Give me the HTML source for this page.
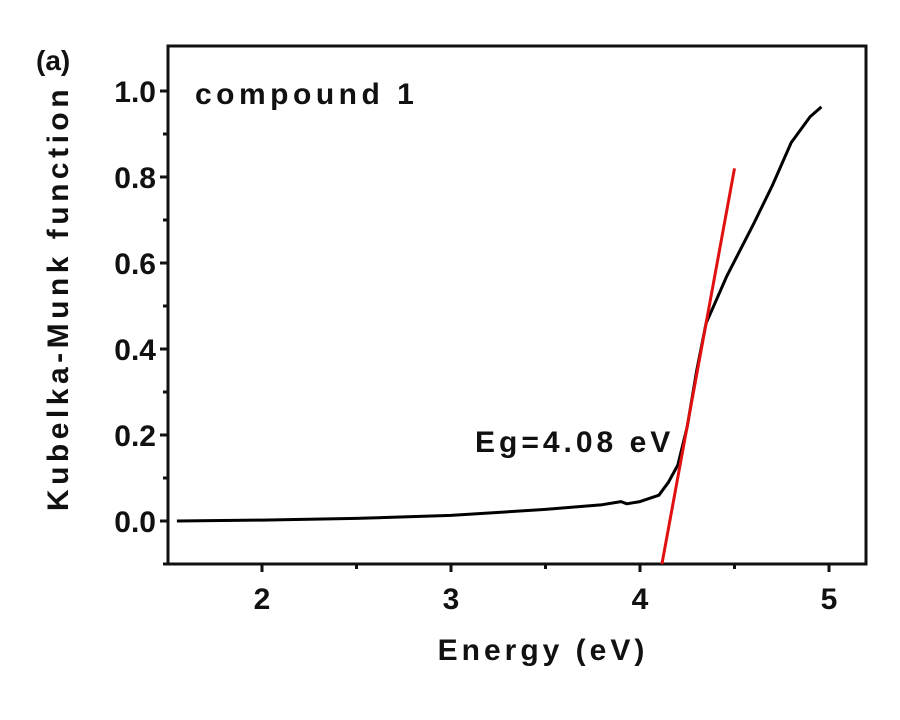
<!DOCTYPE html>
<html><head><meta charset="utf-8"><style>
body{margin:0;background:#fff;}
svg{display:block;font-family:"Liberation Sans",sans-serif;font-weight:bold;}
</style></head><body>
<svg id="chart" width="900" height="720" viewBox="0 0 900 720">
<g id="axes"></g>
<g id="marks"></g>
<text x="36" y="70" font-size="28" fill="#111">(a)</text>
<text x="195" y="104" font-size="30" letter-spacing="4.5" fill="#111">compound 1</text>
<text x="475" y="452" font-size="30" letter-spacing="4" fill="#111">Eg=4.08 eV</text>
<text x="543" y="660" font-size="30" letter-spacing="4" text-anchor="middle" fill="#111">Energy (eV)</text>
<text transform="translate(68,298) rotate(-90)" font-size="30" letter-spacing="4.5" text-anchor="middle" fill="#111">Kubelka-Munk function</text>
</svg>
<script>
const energy=[1.55,2.0,2.5,3.0,3.5,3.8,3.9,3.93,4.0,4.1,4.15,4.2,4.25,4.3,4.35,4.4,4.46,4.6,4.7,4.8,4.9,4.96];
const km=[0.0,0.002,0.006,0.013,0.027,0.038,0.045,0.04,0.045,0.06,0.09,0.13,0.22,0.35,0.46,0.51,0.57,0.69,0.78,0.88,0.94,0.963];
const fitX=[4.116,4.5];
const fitY=[-0.1,0.82];
const xTicks=[2,3,4,5];
const yTicks=[0.0,0.2,0.4,0.6,0.8,1.0];
const NS="http://www.w3.org/2000/svg";
const L=168,R=866,T=46,B=564;
const xs=v=>262+(v-2)*189;
const ys=v=>521-v*430;
const axes=document.getElementById('axes'),marks=document.getElementById('marks');
function mk(tag,attrs,parent){const e=document.createElementNS(NS,tag);for(const k in attrs)e.setAttribute(k,attrs[k]);parent.appendChild(e);return e;}
const fr=mk('rect',{x:L,y:T,width:R-L,height:B-T,fill:'none',stroke:'#111','stroke-width':3},axes);


xTicks.forEach(t=>{
  const l=mk('line',{x1:xs(t),x2:xs(t),y1:B,y2:B+8,stroke:'#111','stroke-width':3},axes);
  
  
  const m=mk('line',{x1:xs(t+0.5),x2:xs(t+0.5),y1:B,y2:B+5,stroke:'#111','stroke-width':3},axes);
  
  
  const tx=mk('text',{x:xs(t),y:B+45,'font-size':30,'text-anchor':'middle',fill:'#111'},axes);
  tx.textContent=t;
  
  
});
yTicks.forEach(t=>{
  const l=mk('line',{x1:L-8,x2:L,y1:ys(t),y2:ys(t),stroke:'#111','stroke-width':3},axes);
  
  
  const m=mk('line',{x1:L-5,x2:L,y1:ys(t-0.1),y2:ys(t-0.1),stroke:'#111','stroke-width':3},axes);
  
  
  const tx=mk('text',{x:L-12,y:ys(t)+11,'font-size':30,'text-anchor':'end',fill:'#111'},axes);
  tx.textContent=t.toFixed(1);
  
  
});
const pts=energy.map((e,i)=>xs(e).toFixed(1)+','+ys(km[i]).toFixed(1)).join(' ');
const cur=mk('polyline',{points:pts,fill:'none',stroke:'#000','stroke-width':3,'stroke-linejoin':'round'},marks);


const fit=mk('line',{x1:xs(fitX[0]),y1:ys(fitY[0]),x2:xs(fitX[1]),y2:ys(fitY[1]),stroke:'#e01010','stroke-width':3},marks);


</script>
</body></html>
